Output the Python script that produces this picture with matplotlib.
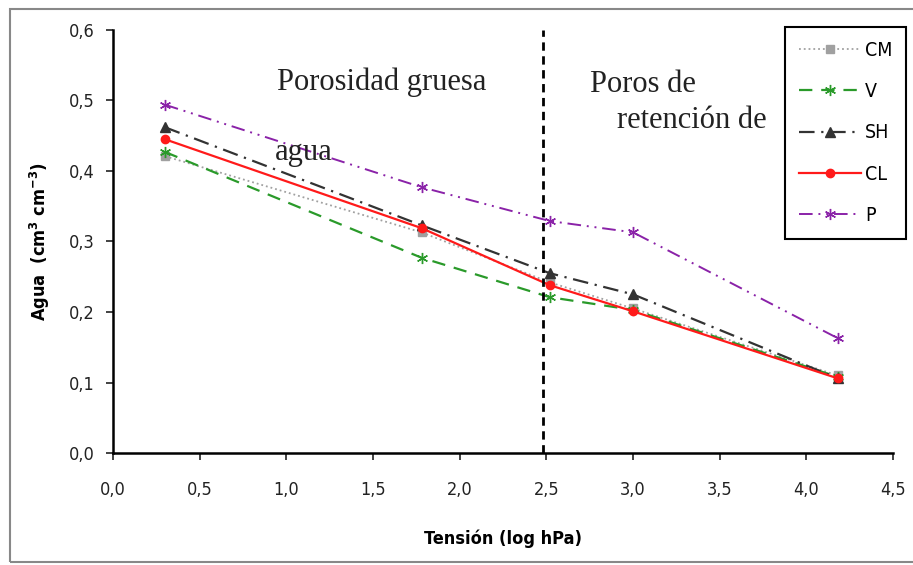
import matplotlib
matplotlib.use('Agg')
import matplotlib.pyplot as plt
from matplotlib.ticker import FuncFormatter, MultipleLocator
from matplotlib.patches import Rectangle

# tension (log hPa) and water content (cm3 cm-3) per soil
tension = [0.30, 1.78, 2.52, 3.00, 4.18]
cm = [0.421, 0.313, 0.242, 0.205, 0.110]
v = [0.427, 0.277, 0.221, 0.203, 0.108]
sh = [0.462, 0.323, 0.255, 0.225, 0.106]
cl = [0.445, 0.319, 0.238, 0.201, 0.106]
p = [0.494, 0.377, 0.329, 0.313, 0.163]
limite = 2.48

plt.rcParams['font.family'] = ['DejaVu Sans']
plt.rcParams['font.stretch'] = 'condensed'

fig = plt.figure(figsize=(9.13, 5.65), dpi=100)
ax = fig.add_axes([113 / 913, 1 - 453 / 565, 780 / 913, 423 / 565])

ast = (6, 2, 0)
ax.plot(tension, cm, ':', color='#a0a0a0', marker='s', ms=6, lw=1.3, label='CM')
ax.plot(tension, v, color='#2a9a2a', ls=(0, (6, 4)), marker=ast, ms=8, lw=1.6, label='V')
ax.plot(tension, sh, color='#333333', ls=(0, (7, 3, 1, 3)), marker='^', ms=7, lw=1.6, label='SH')
ax.plot(tension, cl, '-', color='#ff1a1a', marker='o', ms=6, lw=1.6, label='CL')
ax.plot(tension, p, color='#8a22a8', ls=(0, (7, 3, 1, 3, 1, 3)), marker=ast, ms=8, lw=1.4, label='P')

ax.plot([limite, limite], [0, 0.6], color='black', ls=(0, (3, 2)), lw=2)

ax.set_xlim(0, 4.5)
ax.set_ylim(0, 0.6)
ax.xaxis.set_major_locator(MultipleLocator(0.5))
ax.yaxis.set_major_locator(MultipleLocator(0.1))
coma = FuncFormatter(lambda val, pos: f'{val:.1f}'.replace('.', ','))
ax.xaxis.set_major_formatter(coma)
ax.yaxis.set_major_formatter(coma)
ax.tick_params(labelsize=13, length=5, width=1.2, color='#222222', labelcolor='#222222')
ax.tick_params(axis='x', pad=15)
ax.tick_params(axis='y', pad=8)
for s in ['top', 'right']:
    ax.spines[s].set_visible(False)
for s in ['left', 'bottom']:
    ax.spines[s].set_linewidth(1.8)

ax.set_xlabel('Tensión (log hPa)', fontsize=13, fontweight='bold', labelpad=22)
ax.set_ylabel('Agua  (cm$^{\\mathbf{3}}$ cm$^{\\mathbf{-3}}$)', fontsize=13,
              fontweight='bold', labelpad=12)

serif = ['Liberation Serif', 'DejaVu Serif']
ax.text(0.945, 0.515, 'Porosidad gruesa', family=serif, fontsize=22, color='#222222')
ax.text(0.935, 0.415, 'agua', family=serif, fontsize=22, color='#222222')
ax.text(2.75, 0.512, 'Poros de', family=serif, fontsize=22, color='#222222')
ax.text(2.91, 0.461, 'retención de', family=serif, fontsize=22, color='#222222')

leg = ax.legend(loc='upper right', bbox_to_anchor=(906 / 913, 1 - 27 / 565),
                bbox_transform=fig.transFigure, fontsize=14, fancybox=False,
                edgecolor='black', framealpha=1, handlelength=3.2,
                labelspacing=1.15, borderpad=0.7, handletextpad=0.2,
                borderaxespad=0)
leg.get_frame().set_linewidth(1.5)

# outer frame around the chart
fig.patches.append(Rectangle((10 / 913, 1 - 562 / 565), 1.0, 553 / 565,
                             transform=fig.transFigure, fill=False,
                             edgecolor='#888888', lw=1.5))

fig.savefig('out.png', dpi=100)
